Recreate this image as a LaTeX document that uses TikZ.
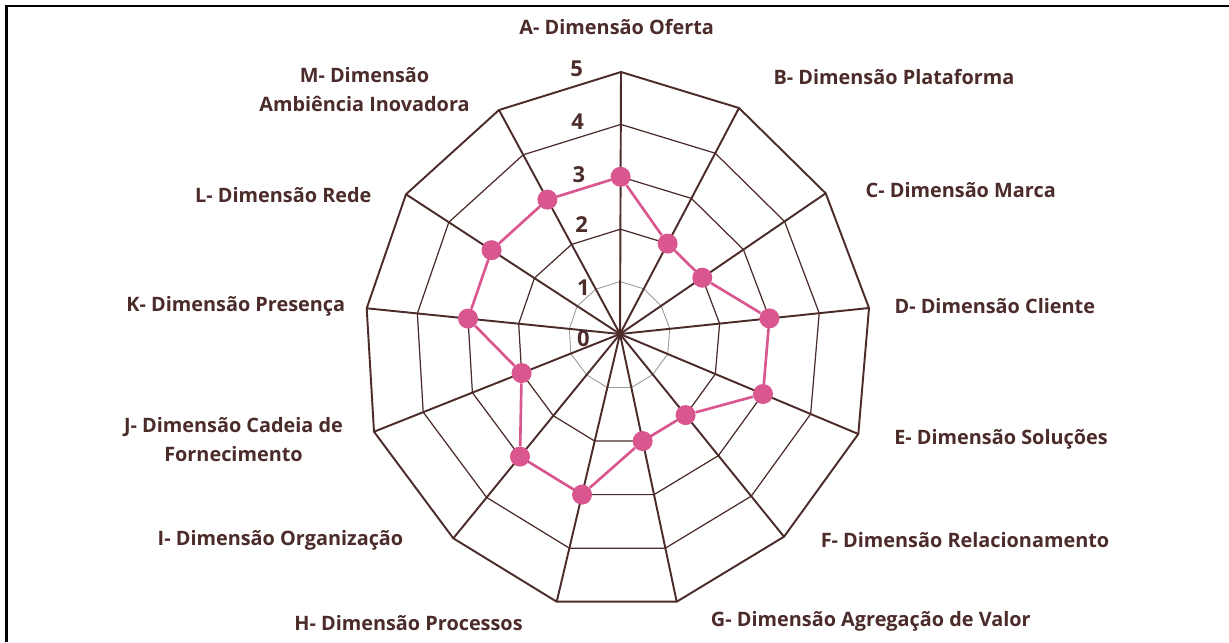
\documentclass[tikz,border=0pt]{standalone}
\usepackage{fontspec}
\setmainfont{Open Sans}
\usetikzlibrary{calc}
\definecolor{brownc}{HTML}{4B2C2A}
\definecolor{pinkc}{HTML}{D9568F}
\definecolor{grayc}{HTML}{9A9A9A}
\begin{document}
\begin{tikzpicture}[x=0.02cm,y=-0.02cm,
  lbl/.style={text=brownc,font=\fontsize{11.3}{16.5}\selectfont\bfseries,align=center,inner sep=0pt},
  num/.style={text=brownc,font=\fontsize{12.5}{14}\selectfont\bfseries,inner sep=0pt},
  axisline/.style={draw=brownc,line width=1.1pt},
  ringline/.style={draw=brownc,line width=0.7pt,line join=miter},
  outerring/.style={draw=brownc,line width=1.1pt,line join=miter},
  innerring/.style={draw=grayc,line width=0.5pt},
  dot/.style={circle,fill=pinkc,minimum size=0.4cm,inner sep=0pt},
  dataline/.style={draw=pinkc,line width=1.5pt,line join=round},
  frameline/.style={draw=black,line width=1.2pt}]
\useasboundingbox (0,0) rectangle (1229,642);
\fill[white] (0,0) rectangle (1229,642);
\draw[frameline] (6.5,642) -- (6.5,6) -- (1229,6);

% centre and outer vertices
\coordinate (O) at (620,334);
\coordinate (vA) at (621,72);
\coordinate (vB) at (739,108);
\coordinate (vC) at (825.7,193.3);
\coordinate (vD) at (869,308);
\coordinate (vE) at (858.3,434);
\coordinate (vF) at (784,536.7);
\coordinate (vG) at (676.7,601.7);
\coordinate (vH) at (556.7,601.7);
\coordinate (vI) at (453.3,538.3);
\coordinate (vJ) at (374,431.7);
\coordinate (vK) at (366.7,308.3);
\coordinate (vL) at (406,194.3);
\coordinate (vM) at (499,110);

% rings
\draw[innerring] ($(O)!0.2!(vA)$) \foreach \v in {B,C,D,E,F,G,H,I,J,K,L,M}{ -- ($(O)!0.2!(v\v)$)} -- cycle;
\foreach \k in {0.4,0.6,0.8}{
  \draw[ringline] ($(O)!\k!(vA)$) \foreach \v in {B,C,D,E,F,G,H,I,J,K,L,M}{ -- ($(O)!\k!(v\v)$)} -- cycle;
}
\draw[outerring] (vA) \foreach \v in {B,C,D,E,F,G,H,I,J,K,L,M}{ -- (v\v)} -- cycle;

% axes
\foreach \v in {A,B,C,D,E,F,G,H,I,J,K,L,M}{
  \draw[axisline] (O) -- (v\v);
}

% scale numbers
\node[num] (n0) at (583.3,338.3) {0};
\node[num] (n1) at (583.3,287.3) {1};
\node[num] (n2) at (581.7,225) {2};
\node[num] (n3) at (579,175) {3};
\node[num] (n4) at (577.7,121.7) {4};
\node[num] (n5) at (576.7,68.3) {5};

% data points
\node[dot] (pA) at ($(O)!0.6!(vA)$) {};
\node[dot] (pB) at ($(O)!0.4!(vB)$) {};
\node[dot] (pC) at ($(O)!0.4!(vC)$) {};
\node[dot] (pD) at ($(O)!0.6!(vD)$) {};
\node[dot] (pE) at ($(O)!0.6!(vE)$) {};
\node[dot] (pF) at ($(O)!0.4!(vF)$) {};
\node[dot] (pG) at ($(O)!0.4!(vG)$) {};
\node[dot] (pH) at ($(O)!0.6!(vH)$) {};
\node[dot] (pI) at ($(O)!0.6!(vI)$) {};
\node[dot] (pJ) at ($(O)!0.4!(vJ)$) {};
\node[dot] (pK) at ($(O)!0.6!(vK)$) {};
\node[dot] (pL) at ($(O)!0.6!(vL)$) {};
\node[dot] (pM) at ($(O)!0.6!(vM)$) {};
\draw[dataline] (pA) -- (pB) -- (pC) -- (pD) -- (pE) -- (pF) -- (pG) -- (pH) -- (pI) -- (pJ) -- (pK) -- (pL) -- (pM) -- (pA);

% labels
\node[lbl] (lA) at (616.7,26.7) {A- Dimensão Oferta};
\node[lbl] (lB) at (894,76.7) {B- Dimensão Plataforma};
\node[lbl] (lC) at (960.7,190) {C- Dimensão Marca};
\node[lbl] (lD) at (994.8,306) {D- Dimensão Cliente};
\node[lbl] (lE) at (1001,439.3) {E- Dimensão Soluções};
\node[lbl] (lF) at (965,540) {F- Dimensão Relacionamento};
\node[lbl] (lG) at (870.8,621.7) {G- Dimensão Agregação de Valor};
\node[lbl] (lH) at (408.5,622.7) {H- Dimensão Processos};
\node[lbl] (lI) at (280.5,540) {I- Dimensão Organização};
\node[lbl] (lJ) at (233.5,439.5) {J- Dimensão Cadeia de\\Fornecimento};
\node[lbl] (lK) at (235.8,306) {K- Dimensão Presença};
\node[lbl] (lL) at (283.3,195) {L- Dimensão Rede};
\node[lbl] (lM) at (364.5,89.2) {M- Dimensão\\Ambiência Inovadora};
\end{tikzpicture}
\end{document}
